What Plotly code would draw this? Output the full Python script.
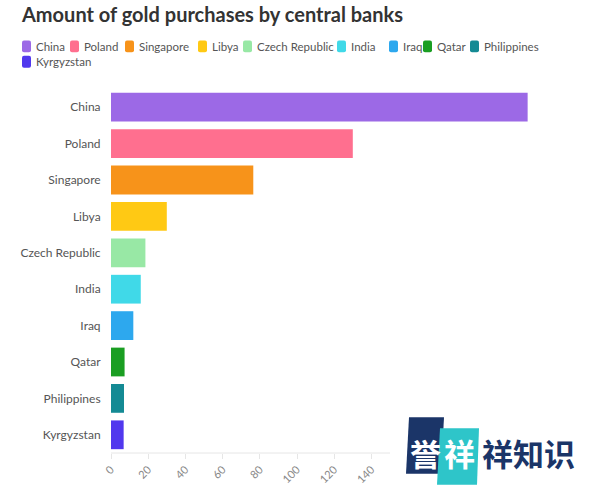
import plotly.graph_objects as go

countries = ["China", "Poland", "Singapore", "Libya", "Czech Republic", "India",
             "Iraq", "Qatar", "Philippines", "Kyrgyzstan"]
values = [224, 130, 76.5, 30, 18.5, 16, 12, 7.3, 7, 6.8]
colors = ["#9C69E6", "#FF6F8F", "#F7931A", "#FFC914", "#98E8A5", "#40D9E8",
          "#2DA8EE", "#1A9E22", "#148A94", "#5138EE"]
tick_vals = [0, 20, 40, 60, 80, 100, 120, 140]

W, H = 600, 498
L, R, T, B = 111, 540, 89, 456
FONT = "Lato"

# legend item positions (pixels): swatch left x, row center y
legend_pos = [(22, 46), (70, 46), (125, 46), (198, 46), (243, 46), (337, 46),
              (389, 46), (423, 46), (470, 46), (22, 61.5)]


def px(x):
    return (x - L) / (R - L)


def py(y):
    return (B - y) / (B - T)


def rrect(x0, y0, x1, y1, r=2):
    pts = (f"M {px(x0 + r)},{py(y0)} L {px(x1 - r)},{py(y0)} "
           f"Q {px(x1)},{py(y0)} {px(x1)},{py(y0 + r)} L {px(x1)},{py(y1 - r)} "
           f"Q {px(x1)},{py(y1)} {px(x1 - r)},{py(y1)} L {px(x0 + r)},{py(y1)} "
           f"Q {px(x0)},{py(y1)} {px(x0)},{py(y1 - r)} L {px(x0)},{py(y0 + r)} "
           f"Q {px(x0)},{py(y0)} {px(x0 + r)},{py(y0)} Z")
    return pts


fig = go.Figure()
for c, v, col in zip(countries, values, colors):
    fig.add_trace(go.Bar(y=[c], x=[v], orientation="h", name=c,
                         marker=dict(color=col, line=dict(width=0)),
                         showlegend=False))

annotations = []
shapes = [
    dict(type="line", xref="x", yref="paper", x0=0, x1=150, y0=0, y1=0,
         line=dict(color="#E6E6E6", width=1), layer="below"),
]

for c, col, (lx, ly) in zip(countries, colors, legend_pos):
    shapes.append(dict(type="path", xref="paper", yref="paper",
                       path=rrect(lx, ly - 6, lx + 9, ly + 6),
                       fillcolor=col, line=dict(width=0)))
    annotations.append(dict(text=c, x=px(lx + 11.5), y=py(ly), xref="paper", yref="paper",
                            showarrow=False, xanchor="left", yanchor="middle",
                            font=dict(family=FONT, size=11.5, color="#555555")))

# watermark
shapes += [
    dict(type="path", xref="paper", yref="paper",
         path=f"M {px(409)},{py(420)} L {px(444)},{py(420)} L {px(441)},{py(477)} L {px(406)},{py(477)} Z",
         fillcolor="#1B3568", line=dict(width=0)),
    dict(type="path", xref="paper", yref="paper",
         path=f"M {px(440)},{py(431)} L {px(479)},{py(431)} L {px(477)},{py(488)} L {px(437)},{py(488)} Z",
         fillcolor="#2EC5C9", line=dict(width=0)),
]
wm_font = "Noto Sans CJK SC"
for txt, cx, col in [("誉", 425, "white"), ("祥", 459, "white"), ("祥知识", 528, "#1B3568")]:
    annotations.append(dict(text=f"<b>{txt}</b>", x=px(cx), y=py(455), xref="paper", yref="paper",
                            showarrow=False, xanchor="center", yanchor="middle",
                            font=dict(family=wm_font, size=31, color=col)))

fig.update_layout(
    width=W, height=H,
    margin=dict(l=L, r=W - R, t=T, b=H - B),
    paper_bgcolor="white", plot_bgcolor="white",
    title=dict(text="<b>Amount of gold purchases by central banks</b>",
               x=22 / W, xanchor="left", y=1 - 15 / H, yanchor="middle",
               font=dict(family=FONT, size=20, color="#333333")),
    bargap=0.21,
    showlegend=False,
    font=dict(family=FONT, size=12, color="#555555"),
    xaxis=dict(range=[0, (R - L) / 1.86], tickvals=tick_vals, tickangle=-45,
               showgrid=False, zeroline=False, showline=False,
               ticks="outside", ticklen=5, tickcolor="#E6E6E6",
               tickfont=dict(family=FONT, size=11, color="#888888")),
    yaxis=dict(categoryorder="array", categoryarray=countries[::-1],
               showgrid=False, zeroline=False, showline=False,
               ticks="outside", ticklen=7, tickcolor="rgba(0,0,0,0)",
               tickfont=dict(family=FONT, size=12, color="#555555")),
    annotations=annotations,
    shapes=shapes,
)

fig.write_html("out.html", config={"displayModeBar": False},
               post_script="document.body.style.margin='0';")
